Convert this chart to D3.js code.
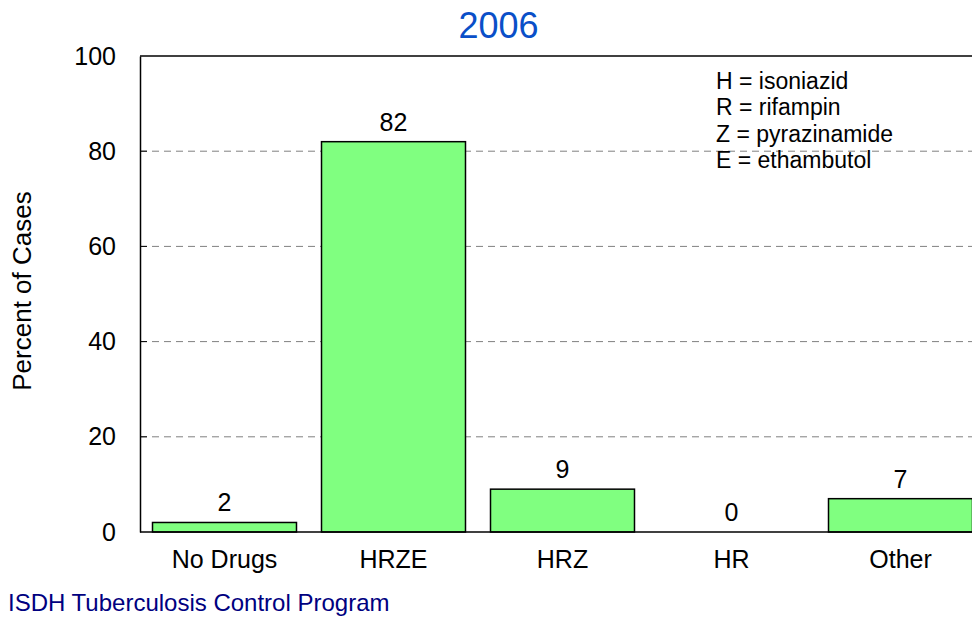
<!DOCTYPE html>
<html>
<head>
<meta charset="utf-8">
<script src="https://cdn.jsdelivr.net/npm/d3@7"></script>
<style>
  html, body { margin: 0; padding: 0; background: #fff; }
  svg { display: block; font-family: "Liberation Sans", Arial, sans-serif; }
</style>
</head>
<body>
<svg id="chart" width="972" height="617"></svg>
<script>
const categories = ["No Drugs", "HRZE", "HRZ", "HR", "Other"];
const values = [2, 82, 9, 0, 7];
const yTicks = [0, 20, 40, 60, 80, 100];
const legendLines = ["H = isoniazid", "R = rifampin", "Z = pyrazinamide", "E = ethambutol"];
const titleText = "2006";
const yLabel = "Percent of Cases";
const footerText = "ISDH Tuberculosis Control Program";

(function () {
const svg = d3.select("#chart");
const pL = 140, pT = 56, pB = 532, pR = 972;

const x = d3.scaleBand().domain(categories).range([pL, 985])
  .paddingInner(0.148).paddingOuter(0.074);
const y = d3.scaleLinear().domain([0, 100]).range([pB, pT]);

// gridlines
svg.append("g").selectAll("line").data(yTicks.filter(t => t > 0 && t < 100)).join("line")
  .attr("x1", pL).attr("x2", pR)
  .attr("y1", d => y(d)).attr("y2", d => y(d))
  .attr("stroke", "#808080").attr("stroke-width", 1).attr("stroke-dasharray", "7,5");

// top border
svg.append("line").attr("x1", pL).attr("x2", pR).attr("y1", y(100)).attr("y2", y(100))
  .attr("stroke", "#000").attr("stroke-width", 1.5);

// y axis
const yAxis = d3.axisLeft(y).tickValues(yTicks).tickSize(0).tickPadding(24);
const ga = svg.append("g").attr("transform", `translate(${pL},0)`).call(yAxis);
ga.select(".domain").attr("stroke", "#000").attr("stroke-width", 1.5);
ga.selectAll("text").attr("font-size", 25).attr("fill", "#000")
  .attr("font-family", "Liberation Sans, Arial, sans-serif");
// inward ticks
svg.append("g").selectAll("line").data(yTicks.filter(t => t > 0 && t < 100)).join("line")
  .attr("x1", pL).attr("x2", pL + 7)
  .attr("y1", d => y(d)).attr("y2", d => y(d))
  .attr("stroke", "#000").attr("stroke-width", 1);

// bars
svg.append("g").selectAll("rect").data(categories).join("rect")
  .attr("x", d => x(d)).attr("width", x.bandwidth())
  .attr("y", (d, i) => y(values[i])).attr("height", (d, i) => pB - y(values[i]))
  .attr("fill", "#80ff80").attr("stroke", "#000").attr("stroke-width", 1.5);

// x axis baseline
svg.append("line").attr("x1", pL).attr("x2", pR).attr("y1", pB).attr("y2", pB)
  .attr("stroke", "#000").attr("stroke-width", 1.5);

// value labels
svg.append("g").selectAll("text").data(categories).join("text")
  .attr("x", d => x(d) + x.bandwidth() / 2)
  .attr("y", (d, i) => y(values[i]) - 11)
  .attr("text-anchor", "middle").attr("font-size", 25).attr("fill", "#000")
  .text((d, i) => values[i]);

// category labels
svg.append("g").selectAll("text").data(categories).join("text")
  .attr("x", d => x(d) + x.bandwidth() / 2)
  .attr("y", 568)
  .attr("text-anchor", "middle").attr("font-size", 25).attr("fill", "#000")
  .text(d => d);

// title
svg.append("text").attr("x", 498.5).attr("y", 38).attr("text-anchor", "middle")
  .attr("font-size", 36).attr("fill", "#0a4fc8").text(titleText);

// y label
svg.append("text").attr("transform", "translate(31,291) rotate(-90)")
  .attr("text-anchor", "middle").attr("font-size", 26).attr("fill", "#000").text(yLabel);

// legend
svg.append("g").selectAll("text").data(legendLines).join("text")
  .attr("x", 716).attr("y", (d, i) => 89 + i * 26.3)
  .attr("font-size", 23).attr("fill", "#000").text(d => d);

// footer
svg.append("text").attr("x", 8).attr("y", 611).attr("font-size", 24)
  .attr("fill", "#000080").text(footerText);
})();
</script>
</body>
</html>
